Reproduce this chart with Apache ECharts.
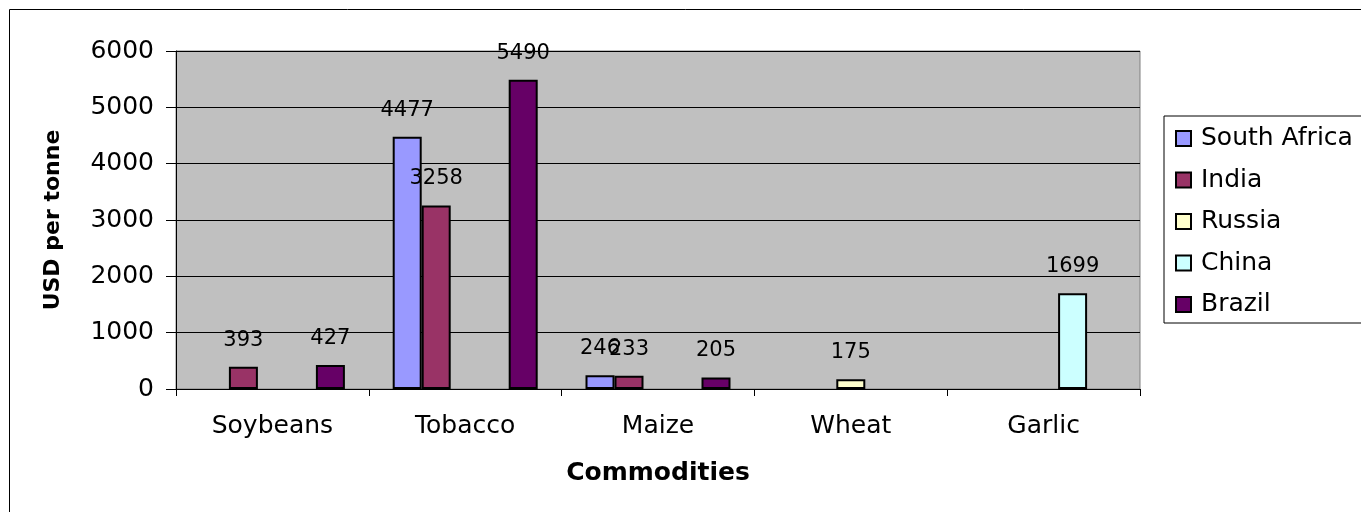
<!DOCTYPE html>
<html>
<head>
<meta charset="utf-8">
<script src="https://cdn.jsdelivr.net/npm/echarts@6/dist/echarts.min.js"></script>
<style>
  html, body { margin: 0; padding: 0; background: #fff; }
  #chart { width: 1361px; height: 512px; }
</style>
</head>
<body>
<div id="chart"></div>
<script>
// commodities on the x axis
var categories = ["Soybeans", "Tobacco", "Maize", "Wheat", "Garlic"];
// USD per tonne, "-" = no bar
var southAfrica = ["-", 4477, 246, "-", "-"];
var india = [393, 3258, 233, "-", "-"];
var russia = ["-", "-", "-", 175, "-"];
var china = ["-", "-", "-", "-", 1699];
var brazil = [427, 5490, 205, "-", "-"];

var font = "DejaVu Sans";

function bar(name, data, color) {
  return {
    name: name,
    type: "bar",
    data: data,
    barWidth: 29,
    barGap: "0%",
    itemStyle: {
      color: color,
      borderColor: "#000",
      borderWidth: 2
    },
    label: {
      show: true,
      position: "top",
      distance: 16,
      color: "#000",
      fontFamily: font,
      fontSize: 21
    }
  };
}

var chart = echarts.init(document.getElementById("chart"));
chart.setOption({
  animation: false,
  backgroundColor: "#fff",
  textStyle: { fontFamily: font, color: "#000" },
  graphic: [{
    type: "rect",
    shape: { x: 9.5, y: 9.5, width: 1500, height: 700 },
    style: { fill: "none", stroke: "#000", lineWidth: 1 },
    silent: true
  }],
  grid: {
    left: 176,
    right: 221,
    top: 51,
    bottom: 123,
    show: true,
    backgroundColor: "#c0c0c0",
    borderColor: "#808080",
    borderWidth: 1
  },
  legend: {
    orient: "vertical",
    left: 1164,
    top: 116,
    padding: [10, 40, 6, 11],
    itemGap: 16.5,
    itemWidth: 15,
    itemHeight: 15,
    icon: "rect",
    borderColor: "#000",
    borderWidth: 1,
    backgroundColor: "#fff",
    textStyle: { fontFamily: font, fontSize: 25, color: "#000", padding: [0, 0, 0, 5] },
    data: ["South Africa", "India", "Russia", "China", "Brazil"]
  },
  xAxis: {
    type: "category",
    data: categories,
    name: "Commodities",
    nameLocation: "middle",
    nameGap: 72,
    nameTextStyle: { fontFamily: font, fontSize: 25, fontWeight: "bold", color: "#000" },
    axisLine: { lineStyle: { color: "#000", width: 1 } },
    axisTick: { show: true, length: 7, lineStyle: { color: "#000" } },
    axisLabel: { fontFamily: font, fontSize: 25, color: "#000", margin: 25 }
  },
  yAxis: {
    type: "value",
    min: 0,
    max: 6000,
    interval: 1000,
    name: "USD per tonne",
    nameLocation: "middle",
    nameGap: 112,
    nameTextStyle: { fontFamily: font, fontSize: 22, fontWeight: "bold", color: "#000" },
    axisLine: { show: true, lineStyle: { color: "#000", width: 1 } },
    axisTick: { show: true, length: 10, lineStyle: { color: "#000" } },
    axisLabel: {
      fontFamily: font, fontSize: 25, color: "#000", margin: 22,
      formatter: function (v) { return String(v); }
    },
    splitLine: { show: true, lineStyle: { color: "#000", width: 1 } }
  },
  series: [
    bar("South Africa", southAfrica, "#9999ff"),
    bar("India", india, "#993366"),
    bar("Russia", russia, "#ffffcc"),
    bar("China", china, "#ccffff"),
    bar("Brazil", brazil, "#660066")
  ]
});
</script>
</body>
</html>
